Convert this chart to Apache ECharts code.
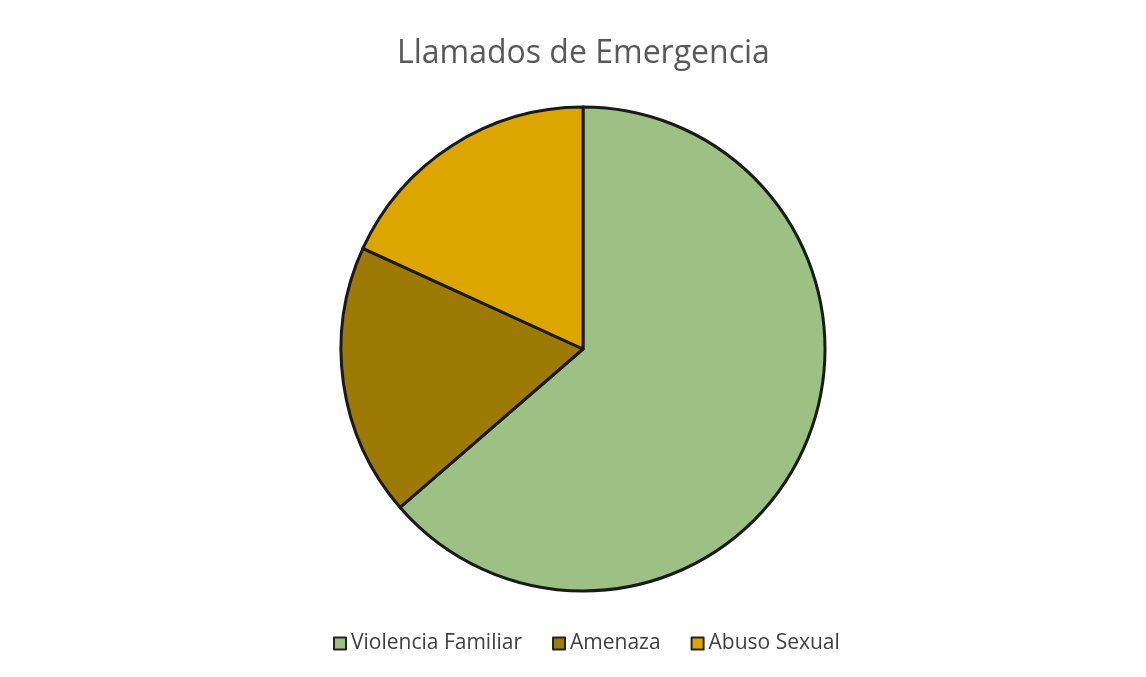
<!DOCTYPE html>
<html>
<head>
<meta charset="utf-8">
<script src="https://cdn.jsdelivr.net/npm/echarts@6/dist/echarts.min.js"></script>
<style>
  html, body { margin: 0; padding: 0; background: #fff; }
  #chart { width: 1146px; height: 677px; }
</style>
</head>
<body>
<div id="chart"></div>
<script>
// 数据
var categories = ['Violencia Familiar', 'Amenaza', 'Abuso Sexual']
var values = [7, 2, 2]
var colors = ['#9dc184', '#9c7a05', '#dca500']

var myChart = echarts.init(document.getElementById('chart'))

var pieData = []
for (var i = 0; i < categories.length; i++) {
  pieData.push({ name: categories[i], value: values[i], itemStyle: { color: colors[i] } })
}

var option = {
  backgroundColor: '#fff',
  animation: false,
  title: {
    text: 'Llamados de Emergencia',
    left: 392,
    top: 33,
    textStyle: {
      fontFamily: 'Open Sans',
      fontSize: 32,
      fontWeight: 'normal',
      color: '#595959'
    }
  },
  legend: {
    data: categories,
    bottom: 18,
    left: 328,
    icon: 'rect',
    itemWidth: 12,
    itemHeight: 12,
    itemGap: 30,
    itemStyle: { borderColor: '#222', borderWidth: 2 },
    textStyle: { fontFamily: 'Open Sans', fontSize: 21, color: '#404040' }
  },
  series: [
    {
      type: 'pie',
      center: [583, 349],
      radius: 242,
      startAngle: 90,
      clockwise: true,
      label: { show: false },
      labelLine: { show: false },
      itemStyle: { borderColor: '#1a1a1a', borderWidth: 3 },
      data: pieData
    }
  ]
}
myChart.setOption(option)
</script>
</body>
</html>
